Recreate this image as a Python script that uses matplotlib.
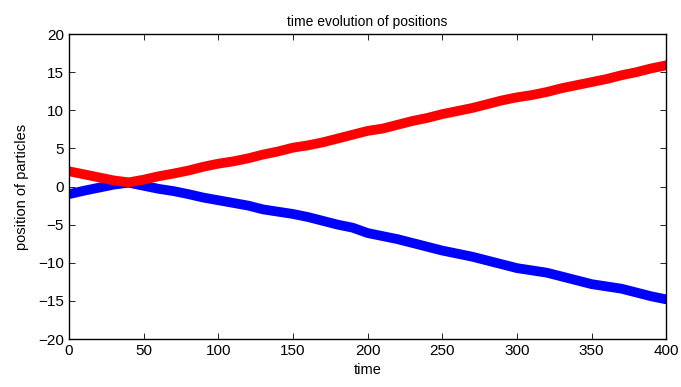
import numpy as np
import matplotlib.pyplot as plt

plt.rcParams['font.family'] = ['Liberation Sans', 'DejaVu Sans']

# time samples and particle positions
t = np.arange(0, 401, 10)
red = [2.0, 1.6, 1.2, 0.8, 0.55, 0.9, 1.35, 1.7, 2.1, 2.6,
       3.0, 3.3, 3.7, 4.2, 4.6, 5.1, 5.4, 5.8, 6.3, 6.8,
       7.3, 7.6, 8.1, 8.6, 9.0, 9.5, 9.9, 10.3, 10.8, 11.3,
       11.7, 12.0, 12.4, 12.9, 13.3, 13.7, 14.1, 14.6, 15.0, 15.5,
       15.9]
blue = [-1.0, -0.55, -0.15, 0.25, 0.5, 0.1, -0.3, -0.6, -1.0, -1.45,
        -1.8, -2.15, -2.5, -3.0, -3.3, -3.6, -4.0, -4.5, -5.0, -5.4,
        -6.1, -6.5, -6.9, -7.4, -7.9, -8.4, -8.8, -9.2, -9.7, -10.2,
        -10.7, -11.0, -11.3, -11.8, -12.3, -12.8, -13.1, -13.4, -13.9, -14.4,
        -14.8]

fig = plt.figure(figsize=(6.81, 3.87), dpi=100)
ax = fig.add_axes([0.1013, 0.124, 0.877, 0.788])

ax.plot(t, blue, color='#0000ff', lw=7, solid_capstyle='round', solid_joinstyle='round')
ax.plot(t, red, color='#ff0000', lw=7, solid_capstyle='round', solid_joinstyle='round')

ax.set_xlim(0, 400)
ax.set_ylim(-20, 20)
ax.set_xticks(np.arange(0, 401, 50))
ax.set_yticks(np.arange(-20, 21, 5))
ax.tick_params(direction='in', top=True, right=True, labelsize=11, length=4, width=0.6)
for s in ax.spines.values():
    s.set_linewidth(1.0)

ax.set_title('time evolution of positions', fontsize=10)
ax.set_xlabel('time', fontsize=10.5, labelpad=4)
ax.set_ylabel('position of particles', fontsize=10.5, labelpad=7)

fig.savefig('out.png', dpi=100)
